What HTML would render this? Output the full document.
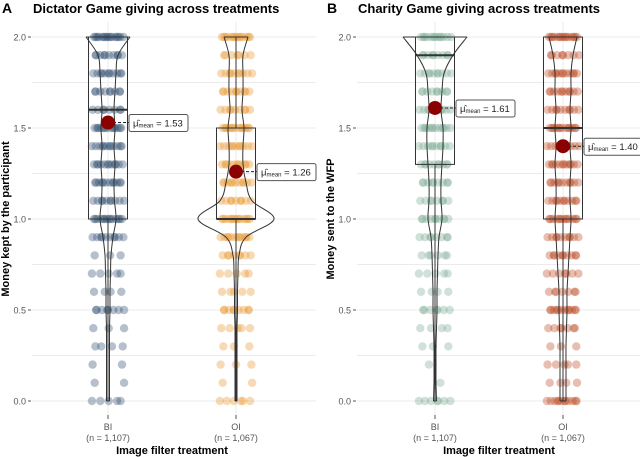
<!DOCTYPE html>
<html><head><meta charset="utf-8"><style>
body{margin:0;background:#fff;}
svg{display:block;font-family:"Liberation Sans",sans-serif;}
</style></head><body>
<svg id="chart" width="640" height="457" viewBox="0 0 640 457"></svg>
<script>
const levels=[0,0.1,0.2,0.3,0.4,0.5,0.6,0.7,0.8,0.9,1.0,1.1,1.2,1.3,1.4,1.5,1.6,1.7,1.8,1.9,2.0];
const yTicks=[0,0.5,1.0,1.5,2.0];
const categories=["BI","OI"];
const nLabels=["(n = 1,107)","(n = 1,067)"];
// dot counts per level (row density)
const countsA_BI=[5,2,2,4,3,8,4,5,3,10,14,10,12,12,12,13,8,9,11,10,16];
const countsA_OI=[6,2,3,3,5,9,5,5,8,12,14,9,11,11,11,13,9,10,10,7,14];
const countsB_BI=[7,1,1,3,4,7,4,5,6,8,10,8,9,10,10,12,10,9,10,9,13];
const countsB_OI=[12,4,5,3,7,12,7,7,10,10,13,11,11,12,11,13,10,11,12,8,15];
// violin half-widths (density, scaled px) per level
const violA_BI=[1.5,1.5,1.5,1.5,1.5,2,2,2.5,3,5,8,6.5,6,7,6,7,6,7,8,10,22];
const violA_OI=[1,1,1,1,1,1.5,1.5,2,3,10,38,16,10,7,7,8,6,7,7,7,12];
const violB_BI=[1.5,1,1,1,1.5,2,2,2.5,3,4,7,6,6,7,8,8,6,7,9,18,32];
const violB_OI=[3,3,3,3,3.5,4,4,5,6,7,8,7,7,8,7,8,7,8,8,10,14];
// box stats [min, q1, median, q3, max]
const boxA_BI=[0,1.0,1.6,2.0,2.0];
const boxA_OI=[0,1.0,1.0,1.5,2.0];
const boxB_BI=[0,1.3,1.9,2.0,2.0];
const boxB_OI=[0,1.0,1.5,2.0,2.0];
const means=[1.53,1.26,1.61,1.40];

const svg=document.getElementById('chart');
const NS='http://www.w3.org/2000/svg';
function el(tag,attrs,parent){const e=document.createElementNS(NS,tag);for(const k in attrs)e.setAttribute(k,attrs[k]);(parent||svg).appendChild(e);return e;}
const y=v=>401-v*182;

const panels=[
 {letter:"A",title:"Dictator Game giving across treatments",ylab:"Money kept by the participant",left:32,right:316,axX:30,xs:[108,236],
  counts:[countsA_BI,countsA_OI],viol:[violA_BI,violA_OI],box:[boxA_BI,boxA_OI],colors:["#2c4a6c","#e8952c"],mean:[means[0],means[1]]},
 {letter:"B",title:"Charity Game giving across treatments",ylab:"Money sent to the WFP",left:357,right:640,axX:355,xs:[435,563],
  counts:[countsB_BI,countsB_OI],viol:[violB_BI,violB_OI],box:[boxB_BI,boxB_OI],colors:["#78a893","#b9441c"],mean:[means[2],means[3]]}
];

panels.forEach((p,pi)=>{
 const g=el('g',{});
 
 
 for(let v=0;v<=2.0001;v+=0.25){const l=el('line',{x1:p.left,x2:p.right,y1:y(v),y2:y(v),stroke:'#ebebeb','stroke-width':1},g);}
 p.xs.forEach(x=>{el('line',{x1:x,x2:x,y1:22,y2:415,stroke:'#ebebeb','stroke-width':1},g);});
 yTicks.forEach(v=>{
  const t=el('text',{x:p.axX-4,y:y(v)+3.5,'text-anchor':'end','font-size':9,fill:'#555'},g);t.textContent=v.toFixed(1);
  
  el('line',{x1:p.axX-2,x2:p.axX+1,y1:y(v),y2:y(v),stroke:'#555'},g);
 });
 categories.forEach((c,ci)=>{
  const x=p.xs[ci];
  el('line',{x1:x,x2:x,y1:415,y2:419,stroke:'#555'},g);
  const t=el('text',{x:x,y:430,'text-anchor':'middle','font-size':9,fill:'#555'},g);t.textContent=c;
  
  const n=el('text',{x:x,y:441,'text-anchor':'middle','font-size':9,fill:'#555'},g);n.textContent=nLabels[ci];
  
  const cnt=p.counts[ci];
  levels.forEach((lv,li)=>{
   const k=cnt[li];
   const span=14;
   for(let j=0;j<k;j++){
    const f=k===1?((li*3)%5-2)/3:(j/(k-1))*2-1;
    const jx=((j*37+li*11)%7-3)*0.7;
    const d=el('circle',{cx:x+f*span+jx,cy:y(lv),r:4.2,fill:p.colors[ci],'fill-opacity':0.35},g);
    
    
   }
  });
  const b=p.box[ci];
  const bw=19.5;
  const wl=el('line',{x1:x,x2:x,y1:y(b[0]),y2:y(b[1]),stroke:'#333','stroke-width':1},g);
  
  el('line',{x1:x,x2:x,y1:y(b[4]),y2:y(b[3]),stroke:'#333','stroke-width':1},g);
  const r=el('rect',{x:x-bw,y:y(b[3]),width:bw*2,height:y(b[1])-y(b[3]),fill:'none',stroke:'#333','stroke-width':1},g);
  
  const md=el('line',{x1:x-bw,x2:x+bw,y1:y(b[2]),y2:y(b[2]),stroke:'#333','stroke-width':2},g);
  
  const vw=p.viol[ci];
  const pts=levels.map((lv,li)=>[vw[li],y(lv)]);
  function side(sign){
   let d='';
   for(let i=0;i<pts.length;i++){
    const px=x+sign*pts[i][0],py=pts[i][1];
    if(i===0){d+=`M${px},${py}`;continue;}
    const p0=pts[Math.max(0,i-2)],p1=pts[i-1],p2=pts[i],p3=pts[Math.min(pts.length-1,i+1)];
    const c1x=x+sign*(p1[0]+(p2[0]-p0[0])/6),c1y=p1[1]+(p2[1]-p0[1])/6;
    const c2x=x+sign*(p2[0]-(p3[0]-p1[0])/6),c2y=p2[1]-(p3[1]-p1[1])/6;
    d+=` C${c1x},${c1y} ${c2x},${c2y} ${px},${py}`;
   }
   return d;
  }
  const v=el('path',{d:side(1)+' '+side(-1),fill:'none',stroke:'#333','stroke-width':1},g);
  
  el('line',{x1:x-vw[20],x2:x+vw[20],y1:y(2),y2:y(2),stroke:'#333','stroke-width':1},g);
  el('line',{x1:x-vw[0],x2:x+vw[0],y1:y(0),y2:y(0),stroke:'#333','stroke-width':1},g);
  const m=p.mean[ci];
  el('line',{x1:x,x2:x+22,y1:y(m),y2:y(m),stroke:'#222','stroke-dasharray':'3,2'},g);
  const mc=el('circle',{cx:x,cy:y(m),r:7,fill:'#8b0000'},g);
  
  const lb=el('rect',{x:x+21,y:y(m)-8,width:59,height:17,rx:2,fill:'#fff',stroke:'#555'},g);
  
  const tt=el('text',{x:x+25,y:y(m)+4,'font-size':9.5,fill:'#222'},g);
  tt.innerHTML='μ̂<tspan font-size="6" dy="1">mean</tspan><tspan dy="-1"> = '+m.toFixed(2)+'</tspan>';
 });
 const L=el('text',{x:p.left-30,y:13,'font-size':14,'font-weight':'bold',fill:'#000'},g);L.textContent=p.letter;
 
 const T=el('text',{x:p.left+1,y:13,'font-size':13,'font-weight':'bold',fill:'#000'},g);T.textContent=p.title;
 
 const XL=el('text',{x:(p.xs[0]+p.xs[1])/2,y:454,'text-anchor':'middle','font-size':11,'font-weight':'bold',fill:'#000'},g);XL.textContent='Image filter treatment';
 
 const YL=el('text',{x:0,y:0,transform:`translate(${p.axX-21},${y(1)}) rotate(-90)`,'text-anchor':'middle','font-size':11,'font-weight':'bold',fill:'#000'},g);YL.textContent=p.ylab;
 
});
</script>
</body></html>
